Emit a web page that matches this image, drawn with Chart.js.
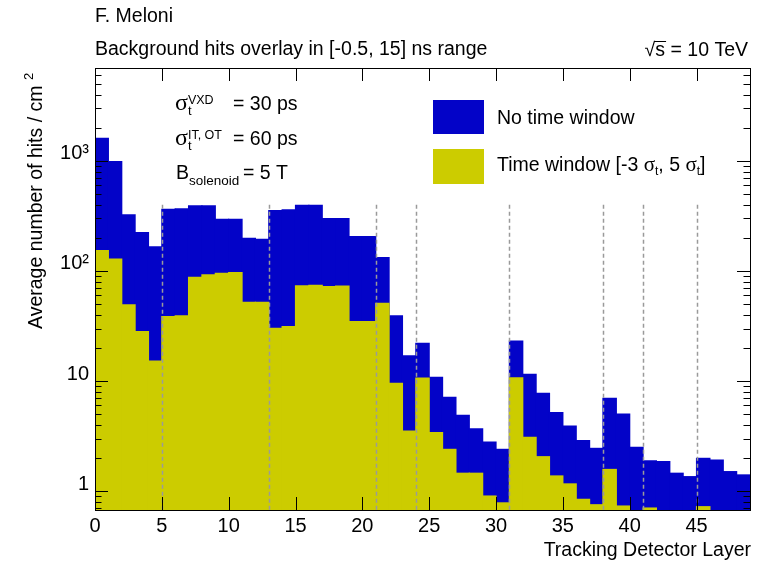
<!DOCTYPE html>
<html lang="en">
<head>
  <meta charset="UTF-8" />
  <title>Background hits per tracking layer</title>
  <script src="https://cdn.jsdelivr.net/npm/chart.js"></script>
  <style>
    html, body { margin: 0; padding: 0; background: #fff; }
  </style>
</head>
<body>
  <canvas id="hitsChart" width="765" height="563"></canvas>

  <script>
    // Data (one bin per detector layer)
    const layers = [0, 1, 2, 3, 4, 5, 6, 7, 8, 9, 10, 11, 12, 13, 14, 15, 16, 17, 18, 19,
      20, 21, 22, 23, 24, 25, 26, 27, 28, 29, 30, 31, 32, 33, 34, 35, 36, 37, 38, 39,
      40, 41, 42, 43, 44, 45, 46, 47, 48];

    const noWindowHits = [1608, 986, 323, 223, 166, 364, 368, 390, 390, 295, 295, 198, 194, 353, 359, 396, 396, 299, 299, 205,
      205, 132, 39, 16.9, 22.0, 10.8, 7.11, 4.88, 3.68, 2.79, 2.39, 23.1, 11.5, 7.72, 5.15, 3.90, 2.87, 2.44, 6.96, 5.01,
      2.49, 1.88, 1.85, 1.45, 1.35, 1.98, 1.91, 1.50, 1.40];

    const timeWindowHits = [153, 128, 49.1, 28.1, 15.2, 38.4, 39.2, 87.7, 92, 95.3, 96.6, 51.9, 51.9, 30.1, 31.2, 73.1, 74.1, 72, 73, 34.6,
      34.6, 50.9, 9.53, 3.51, 10.6, 3.39, 2.39, 1.45, 1.45, 0.90, 0.78, 10.7, 3.08, 2.05, 1.37, 1.16, 0.84, 0.75, 1.57, 0.73,
      null, 0.70, null, null, null, 0.72, null, null, null];

    // Dashed separators between sub-detectors
    const dividerLayers = [5, 13, 21, 24, 31, 38, 41, 45];
    const dividerTop = 400;

    // Axis ticks
    const xTickValues = [0, 5, 10, 15, 20, 25, 30, 35, 40, 45];
    const yMajorValues = [1, 10, 100, 1000];
    const yMajorLabels = ['1', '10', '10²', '10³'];
    const yMin = 0.672;
    const yMax = 7000;

    const SANS = '"Liberation Sans", Arial, Helvetica, sans-serif';
    const SERIF = '"Liberation Serif", "Times New Roman", serif';
    const blue = '#0303c8';
    const yellow = '#cccc00';

    function font(size, family) {
      return size + 'px ' + (family || SANS);
    }

    // draw a run of text pieces (sub/superscripts via dy)
    function drawParts(ctx, x, y, parts) {
      let cx = x;
      parts.forEach(p => {
        ctx.font = font(p.size || 19.5, p.family);
        ctx.fillText(p.text, cx, y + (p.dy || 0));
        if (!p.noAdvance) cx += ctx.measureText(p.text).width;
      });
      return cx;
    }

    function yTicksFor(scale) {
      const ticks = [];
      yMajorValues.concat([0.1]).forEach(decade => {
        for (let m = 1; m <= 9; m++) {
          const v = +(decade * m).toPrecision(3);
          if (v >= yMin && v <= yMax) ticks.push(v);
        }
      });
      ticks.sort((a, b) => a - b);
      scale.ticks = ticks.map(v => ({ value: v, major: yMajorValues.includes(v) }));
    }

    const rootStyle = {
      id: 'rootStyle',
      afterDatasetsDraw(chart) {
        const { ctx, chartArea: a, scales } = chart;
        const xs = scales.xt, ys = scales.y;
        ctx.save();

        // separators
        ctx.strokeStyle = '#9a9a9a';
        ctx.lineWidth = 1.5;
        ctx.setLineDash([4, 3]);
        const yTop = ys.getPixelForValue(dividerTop);
        dividerLayers.forEach(l => {
          const px = Math.round(xs.getPixelForValue(l)) + 0.5;
          ctx.beginPath();
          ctx.moveTo(px, yTop);
          ctx.lineTo(px, a.bottom);
          ctx.stroke();
        });
        ctx.setLineDash([]);

        // frame
        ctx.strokeStyle = '#000';
        ctx.lineWidth = 1;
        ctx.strokeRect(a.left + 0.5, a.top + 0.5, a.right - a.left, a.bottom - a.top);

        // ticks inside the frame
        ctx.beginPath();
        xs.ticks.forEach(t => {
          if (t.value <= 0) return;
          const px = Math.round(xs.getPixelForValue(t.value)) + 0.5;
          ctx.moveTo(px, a.bottom); ctx.lineTo(px, a.bottom - 13);
          ctx.moveTo(px, a.top); ctx.lineTo(px, a.top + 13);
        });
        ys.ticks.forEach(t => {
          const py = Math.round(ys.getPixelForValue(t.value)) + 0.5;
          const len = t.major ? 13 : 6.5;
          ctx.moveTo(a.left, py); ctx.lineTo(a.left + len, py);
          ctx.moveTo(a.right, py); ctx.lineTo(a.right - len, py);
        });
        ctx.stroke();
        ctx.restore();
      },
      afterDraw(chart) {
        const { ctx } = chart;
        ctx.save();
        ctx.fillStyle = '#000';
        ctx.textBaseline = 'alphabetic';
        ctx.textAlign = 'left';

        // titles
        ctx.font = font(19.5);
        ctx.fillText('F. Meloni', 95, 22);
        ctx.fillText('Background hits overlay in [-0.5, 15] ns range', 95, 55, 393);

        // sqrt(s) = 10 TeV, right aligned
        const rest = 's = 10 TeV';
        const wRoot = ctx.measureText('√').width;
        const wRest = ctx.measureText(rest).width;
        const x0 = 748 - wRoot - wRest;
        ctx.fillText('√', x0, 56);
        ctx.fillText(rest, x0 + wRoot, 56);
        ctx.lineWidth = 1;
        ctx.beginPath();
        ctx.moveTo(x0 + wRoot - 1, 41.5);
        ctx.lineTo(x0 + wRoot + ctx.measureText('s').width + 1, 41.5);
        ctx.stroke();

        // x axis title
        ctx.textAlign = 'right';
        ctx.fillText('Tracking Detector Layer', 751, 556);
        ctx.textAlign = 'left';

        // y axis title
        ctx.save();
        ctx.translate(42, 329);
        ctx.rotate(-Math.PI / 2);
        drawParts(ctx, 0, 0, [
          { text: 'Average number of hits / cm', size: 19.5 },
          { text: ' ', size: 19.5 },
          { text: '2', size: 13, dy: -9 }
        ]);
        ctx.restore();

        // annotations
        drawParts(ctx, 175, 110, [
          { text: 'σ', size: 24, family: SERIF },
          { text: 't', size: 13, dy: 5, noAdvance: true },
          { text: 'VXD', size: 12.5, dy: -6 }
        ]);
        ctx.font = font(19.5);
        ctx.fillText('= 30 ps', 233, 110);

        drawParts(ctx, 175, 145, [
          { text: 'σ', size: 24, family: SERIF },
          { text: 't', size: 13, dy: 5, noAdvance: true },
          { text: 'IT, OT', size: 12.5, dy: -6 }
        ]);
        ctx.font = font(19.5);
        ctx.fillText('= 60 ps', 233, 145);

        drawParts(ctx, 176, 179, [
          { text: 'B', size: 19.5 },
          { text: 'solenoid', size: 13.5, dy: 6 }
        ]);
        ctx.font = font(19.5);
        ctx.fillText('= 5 T', 243, 179);

        // legend
        const ds = chart.data.datasets;
        ctx.fillStyle = ds[1].backgroundColor;
        ctx.fillRect(433, 100, 51, 34);
        ctx.fillStyle = ds[0].backgroundColor;
        ctx.fillRect(433, 149, 51, 35);
        ctx.fillStyle = '#000';
        ctx.font = font(19.5);
        ctx.fillText(ds[1].label, 497, 124);
        drawParts(ctx, 497, 171, [
          { text: 'Time window [-3 ', size: 19.5 },
          { text: 'σ', size: 21, family: SERIF },
          { text: 't', size: 12, dy: 4 },
          { text: ', 5 ', size: 19.5 },
          { text: 'σ', size: 21, family: SERIF },
          { text: 't', size: 12, dy: 4 },
          { text: ']', size: 19.5 }
        ]);
        ctx.restore();
      }
    };

    // Render Chart
    const ctx = document.getElementById('hitsChart').getContext('2d');
    new Chart(ctx, {
      type: 'bar',
      data: {
        labels: layers,
        datasets: [
          {
            label: 'Time window [-3 σt, 5 σt]',
            data: timeWindowHits,
            backgroundColor: yellow,
            borderWidth: 0,
            inflateAmount: 0.6,
            grouped: false,
            barPercentage: 1,
            categoryPercentage: 1
          },
          {
            label: 'No time window',
            data: noWindowHits,
            backgroundColor: blue,
            borderWidth: 0,
            inflateAmount: 0.6,
            grouped: false,
            barPercentage: 1,
            categoryPercentage: 1
          }
        ]
      },
      options: {
        responsive: false,
        animation: false,
        devicePixelRatio: 1,
        layout: { padding: { top: 68, right: 15, left: 0, bottom: 0 } },
        plugins: {
          legend: { display: false },
          tooltip: { enabled: false }
        },
        scales: {
          x: { type: 'category', display: false, offset: true },
          xt: {
            type: 'linear',
            position: 'bottom',
            offset: false,
            min: 0,
            max: 49,
            afterFit(s) { s.height = 53; },
            afterBuildTicks(s) { s.ticks = xTickValues.map(v => ({ value: v })); },
            grid: { display: false, drawTicks: false, offset: false },
            border: { display: false },
            ticks: {
              autoSkip: false,
              maxRotation: 0,
              padding: 4,
              color: '#000',
              font: { family: SANS, size: 20 }
            }
          },
          y: {
            type: 'logarithmic',
            min: yMin,
            max: yMax,
            afterFit(s) { s.width = 95; },
            afterBuildTicks: yTicksFor,
            grid: { display: false, drawTicks: false },
            border: { display: false },
            ticks: {
              autoSkip: false,
              padding: 6,
              labelOffset: -7,
              color: '#000',
              font: { family: SANS, size: 20 },
              callback: v => {
                const i = yMajorValues.indexOf(v);
                return i >= 0 ? yMajorLabels[i] : '';
              }
            }
          }
        }
      },
      plugins: [rootStyle]
    });
  </script>
</body>
</html>
